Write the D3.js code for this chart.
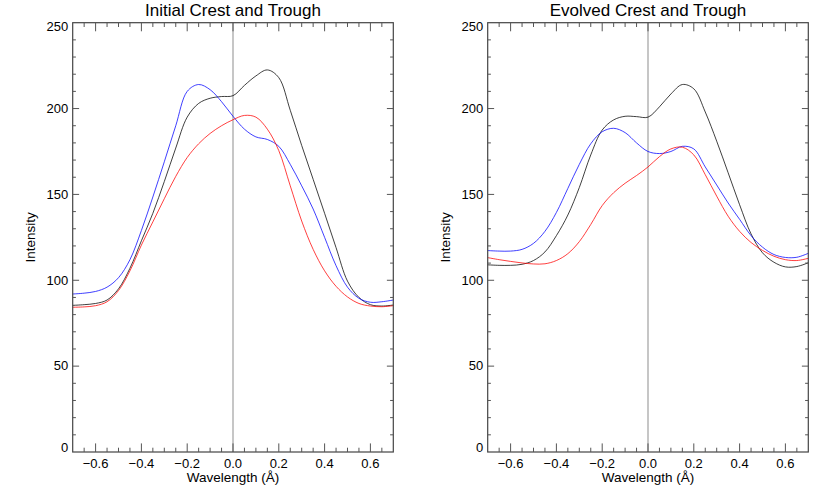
<!DOCTYPE html>
<html>
<head>
<meta charset="utf-8">
<script src="https://cdn.jsdelivr.net/npm/d3@7"></script>
<style>
  html, body { margin: 0; padding: 0; background: #fff; }
  svg { display: block; }
  text { font-family: "Liberation Sans", Arial, Helvetica, sans-serif; fill: #000; }
</style>
</head>
<body>
<svg id="chart" width="830" height="498"></svg>
<script>
// ---- Data ----
const wavelength = [-0.70,-0.65,-0.60,-0.55,-0.50,-0.45,-0.40,-0.35,-0.30,-0.25,-0.20,-0.15,-0.10,-0.05,
  0.00,0.05,0.10,0.15,0.20,0.25,0.30,0.35,0.40,0.45,0.50,0.55,0.60,0.65,0.70];

const initialBlack = [85.4,85.8,86.5,88.5,95,107,123,139,157.5,177,195,203,206,207,
  207.5,213.5,219,222.5,218,199,178.5,158.8,139,119,99.5,90,85.8,85,85.6];
const initialBlue = [92,92.5,93.5,96,101.5,112,129,148.5,169,190,210,214,211,204,
  195.5,188,183.5,182,178,167.5,155,141.5,125,108.5,96,89.5,87.2,87.5,88.5];
const initialRed = [84.3,84.5,85.2,87.5,94,105.5,120.5,134,147.5,160.5,171.5,179.5,185.5,190,
  193.5,196,195,188,175.5,155,134.5,118,105.5,96.5,90.3,86.5,85,84.6,85.2];

const evolvedBlack = [109,108.7,108.7,109.3,111.5,116.5,126,138,154,173,187.5,193.4,195.5,195.3,
  195,201,208.5,214,211.5,198,181,162.6,144,127,116,110.5,107.8,108,110.2];
const evolvedBlue = [117.3,117,117,118,121.5,128.5,139.5,153.5,167.5,179.5,186.5,188.5,186,180,
  175,173.8,175,178,176.5,166,155.5,145,135.5,126,119.3,115,113.3,113.4,115.7];
const evolvedRed = [113.2,112,111,110.1,109.5,109.6,111.5,115.5,122.5,132.5,143.5,151,156.5,161,
  166,172,176.5,177.5,173,161.5,149,137.3,128.5,122,117.4,114,112,111.5,112.8];

const panelTitles = ["Initial Crest and Trough", "Evolved Crest and Trough"];
const xTickValues = [-0.6,-0.4,-0.2,0.0,0.2,0.4,0.6];
const yTickValues = [0,50,100,150,200,250];
const xDomain = [-0.7, 0.7];
const yDomain = [0, 250];
const seriesColors = ["#000000", "#0000ff", "#ff0000"];

const panels = [
  { title: panelTitles[0], series: [initialBlack, initialBlue, initialRed], left: 72.7 },
  { title: panelTitles[1], series: [evolvedBlack, evolvedBlue, evolvedRed], left: 487.7 }
];

// ---- Drawing ----
const svg = d3.select("#chart");
const plotW = 320.6, plotTop = 22.7, plotBottom = 452;
const plotH = plotBottom - plotTop;
const fmtX = v => (v < 0 ? "\u2212" : "") + Math.abs(v).toFixed(1);

const xMinor = d3.range(-0.7, 0.7001, 0.05).map(v => +v.toFixed(2));
const yMinor = d3.range(0, 250.001, 10);

panels.forEach(p => {
  const g = svg.append("g").attr("transform", `translate(${p.left},${plotTop})`);
  const x = d3.scaleLinear().domain(xDomain).range([0, plotW]);
  const y = d3.scaleLinear().domain(yDomain).range([plotH, 0]);

  const xMajLen = 0.02 * plotH, xMinLen = xMajLen / 2;
  const yMajLen = 0.02 * plotW, yMinLen = yMajLen / 2;

  // zero line
  g.append("line")
    .attr("x1", x(0)).attr("x2", x(0)).attr("y1", 0).attr("y2", plotH)
    .attr("stroke", "#a8a8a8").attr("stroke-width", 1.3);

  // series
  const line = d3.line()
    .x((d, i) => x(wavelength[i]))
    .y(d => y(d))
    .curve(d3.curveCatmullRom.alpha(0.5));
  p.series.forEach((s, i) => {
    g.append("path").datum(s)
      .attr("d", line)
      .attr("fill", "none")
      .attr("stroke", seriesColors[i])
      .attr("stroke-opacity", 0.75)
      .attr("stroke-width", 1);
  });

  // frame
  g.append("rect").attr("x", 0).attr("y", 0).attr("width", plotW).attr("height", plotH)
    .attr("fill", "none").attr("stroke", "#444").attr("stroke-width", 1.2);

  const tickColor = "#555";
  // x ticks (bottom & top)
  const isMajorX = v => xTickValues.some(t => Math.abs(t - v) < 1e-6);
  xMinor.forEach(v => {
    if (v <= xDomain[0] + 1e-6 || v >= xDomain[1] - 1e-6) return;
    const len = isMajorX(v) ? xMajLen : xMinLen;
    g.append("line").attr("x1", x(v)).attr("x2", x(v)).attr("y1", plotH).attr("y2", plotH - len)
      .attr("stroke", tickColor).attr("stroke-width", 1);
    g.append("line").attr("x1", x(v)).attr("x2", x(v)).attr("y1", 0).attr("y2", len)
      .attr("stroke", tickColor).attr("stroke-width", 1);
  });
  // y ticks (left & right)
  const isMajorY = v => yTickValues.some(t => Math.abs(t - v) < 1e-6);
  yMinor.forEach(v => {
    if (v <= yDomain[0] + 1e-6 || v >= yDomain[1] - 1e-6) return;
    const len = isMajorY(v) ? yMajLen : yMinLen;
    g.append("line").attr("x1", 0).attr("x2", len).attr("y1", y(v)).attr("y2", y(v))
      .attr("stroke", tickColor).attr("stroke-width", 1);
    g.append("line").attr("x1", plotW).attr("x2", plotW - len).attr("y1", y(v)).attr("y2", y(v))
      .attr("stroke", tickColor).attr("stroke-width", 1);
  });

  // x tick labels
  g.selectAll(".xl").data(xTickValues).enter().append("text")
    .attr("x", d => x(d)).attr("y", plotH + 16.5)
    .attr("text-anchor", "middle").attr("font-size", 13)
    .text(fmtX);
  // y tick labels
  g.selectAll(".yl").data(yTickValues).enter().append("text")
    .attr("x", -4.5)
    .attr("y", d => Math.min(Math.max(y(d), 4.3), plotH - 4.7) + 4.3)
    .attr("text-anchor", "end").attr("font-size", 13)
    .text(d => d);

  // axis titles
  g.append("text").attr("x", plotW / 2).attr("y", plotH + 30.5)
    .attr("text-anchor", "middle").attr("font-size", 13.5)
    .text("Wavelength (\u00C5)");
  g.append("text")
    .attr("transform", `translate(${-37.5},${plotH / 2}) rotate(-90)`)
    .attr("text-anchor", "middle").attr("font-size", 13.5)
    .text("Intensity");
  // panel title
  g.append("text").attr("x", plotW / 2).attr("y", -6.5)
    .attr("text-anchor", "middle").attr("font-size", 17)
    .text(p.title);
});
</script>
</body>
</html>
